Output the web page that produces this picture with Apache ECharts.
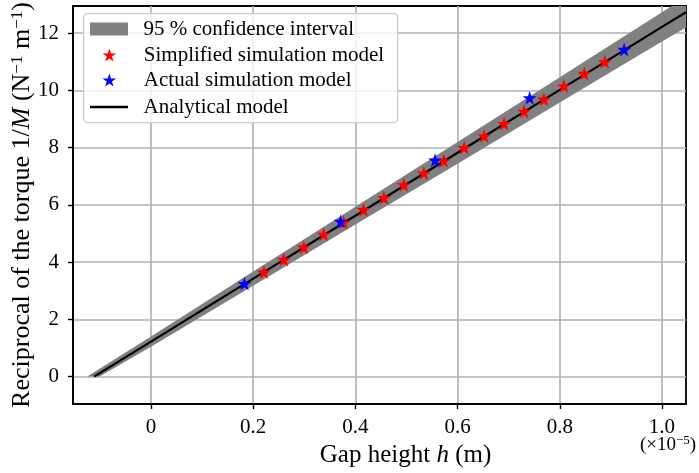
<!DOCTYPE html>
<html>
<head>
<meta charset="utf-8">
<script src="https://cdn.jsdelivr.net/npm/echarts@6/dist/echarts.min.js"></script>
<style>html,body{margin:0;padding:0;background:#fff}#c{width:699px;height:473px}</style>
</head>
<body>
<div id="c"></div>
<script>
// Gap height (×1e-5 m) and reciprocal torque values
const simplifiedH = [0.221, 0.260, 0.299, 0.338, 0.377, 0.416, 0.456, 0.495, 0.534, 0.573, 0.613, 0.652, 0.691, 0.730, 0.769, 0.808, 0.848, 0.888];
const simplifiedInv = [3.65, 4.09, 4.52, 4.97, 5.39, 5.83, 6.25, 6.70, 7.11, 7.54, 8.00, 8.41, 8.84, 9.27, 9.69, 10.15, 10.59, 11.00];
const actualH = [0.183, 0.371, 0.556, 0.741, 0.926];
const actualInv = [3.25, 5.42, 7.56, 9.74, 11.43];
const analyticalH = [-0.111, 0, 0.2, 0.4, 0.6, 0.8, 1.0, 1.047];
const analyticalInv = [0, 1.22, 3.42, 5.62, 7.82, 10.02, 12.22, 12.73];
const bandUpperH = [-0.1247, 0, 0.2, 0.4, 0.6, 0.8, 1.0, 1.047];
const bandUpperInv = [0, 1.40, 3.67, 5.93, 8.20, 10.46, 12.73, 13.26];
const bandLowerH = [-0.1006, 0, 0.2, 0.4, 0.6, 0.8, 1.0, 1.047];
const bandLowerInv = [0, 1.04, 3.17, 5.31, 7.44, 9.58, 11.71, 12.20];
const xTicks = [0, 0.2, 0.4, 0.6, 0.8, 1.0];
const yTicks = [0, 2, 4, 6, 8, 10, 12];
const legendNames = ['95 % confidence interval', 'Simplified simulation model', 'Actual simulation model', 'Analytical model'];

const FONT = 'Liberation Serif';
const STAR = 'path://M100,0L122.45,69.1L195.1,69.1L136.3,111.8L158.8,180.9L100,138.2L41.2,180.9L63.7,111.8L4.9,69.1L77.55,69.1Z';
const zip = (a, b) => a.map((v, i) => [v, b[i]]);

const chart = echarts.init(document.getElementById('c'), null, {renderer: 'canvas'});

const axisCommon = {
  axisLine: {show: true, onZero: false, lineStyle: {color: '#000', width: 1.8}},
  axisTick: {show: true, inside: false, length: 5, lineStyle: {color: '#000', width: 1.4}},
  splitLine: {show: true, lineStyle: {color: '#b0b0b0', width: 1.6}},
  nameMoveOverlap: false
};

function legendRow(name, left, top, icon, color) {
  return {
    show: true, left: left, top: top, orient: 'vertical', padding: 0, z: 20,
    itemWidth: 38, itemHeight: 13, selectedMode: false,
    formatter: n => '  ' + n,
    data: [{name: name, icon: icon, itemStyle: {color: color, borderWidth: 0}}],
    textStyle: {fontFamily: FONT, fontSize: 21, color: '#000', lineHeight: 22}
  };
}

const option = {
  animation: false,
  backgroundColor: '#fff',
  grid: {left: 73, right: 13, top: 6, bottom: 69, containLabel: false, outerBoundsMode: 'none',
    show: true, borderColor: '#000', borderWidth: 1.8, backgroundColor: 'transparent'},
  xAxis: Object.assign({}, axisCommon, {
    type: 'value', min: -0.1526, max: 1.047,
    axisTick: Object.assign({}, axisCommon.axisTick, {customValues: xTicks}),
    axisLabel: {customValues: xTicks, fontFamily: FONT, fontSize: 21, color: '#000', margin: 13,
      formatter: v => v === 0 ? '0' : v.toFixed(1)},
    name: '{n|Gap height }{i|h}{n| (m)}', nameLocation: 'middle', nameGap: 39,
    nameTextStyle: {fontFamily: FONT, fontSize: 25, color: '#000', padding: [0, 0, 0, 52],
      rich: {n: {fontFamily: FONT, fontSize: 25, color: '#000'}, i: {fontFamily: FONT, fontSize: 25, fontStyle: 'italic', color: '#000'}}}
  }),
  yAxis: Object.assign({}, axisCommon, {
    type: 'value', min: -0.96, max: 12.95,
    axisTick: Object.assign({}, axisCommon.axisTick, {customValues: yTicks}),
    axisLabel: {customValues: yTicks, fontFamily: FONT, fontSize: 21, color: '#000', margin: 14,
      formatter: v => String(Math.round(v))},
    name: '{n|Reciprocal of the torque 1/}{i|M}{n| (N}{s|−1}{n| m}{s|−1}{n|)}',
    nameLocation: 'middle', nameRotate: 90, nameGap: 37,
    nameTextStyle: {fontFamily: FONT, fontSize: 26, color: '#000',
      rich: {
        n: {fontFamily: FONT, fontSize: 26, color: '#000'},
        i: {fontFamily: FONT, fontSize: 26, fontStyle: 'italic', color: '#000'},
        s: {fontFamily: FONT, fontSize: 17, color: '#000', verticalAlign: 'top', padding: [0, 0, 10, 0]}
      }}
  }),
  legend: [
    legendRow(legendNames[0], 90, 18, 'rect', '#808080'),
    legendRow(legendNames[1], 102.5, 44, STAR, '#ff0000'),
    legendRow(legendNames[2], 102.5, 69, STAR, '#0000ff'),
    legendRow(legendNames[3], 90, 96, 'path://M0,0H38V2.4H0Z', '#000')
  ],
  graphic: [
    {type: 'rect', left: 83, top: 13, shape: {width: 314, height: 109, r: 4}, z: 10,
      style: {fill: 'rgba(255,255,255,0.8)', stroke: '#cccccc', lineWidth: 1.3}},
    {type: 'text', left: 640, top: 434, z: 100,
      style: {text: '{a|(×10}{s|−5}{a|)}', rich: {
        a: {fontFamily: FONT, fontSize: 19, fill: '#000'},
        s: {fontFamily: FONT, fontSize: 13, fill: '#000', verticalAlign: 'top', padding: [0, 0, 9, 0]}}}}
  ],
  series: [
    {
      type: 'custom', name: legendNames[0], coordinateSystem: 'cartesian2d', z: 1,
      itemStyle: {color: '#808080'},
      data: [[0, 0]],
      renderItem: function (params, api) {
        const pts = [];
        for (let i = 0; i < bandUpperH.length; i++) pts.push(api.coord([bandUpperH[i], bandUpperInv[i]]));
        for (let i = bandLowerH.length - 1; i >= 0; i--) pts.push(api.coord([bandLowerH[i], bandLowerInv[i]]));
        const cs = params.coordSys;
        return {type: 'polygon', shape: {points: pts}, style: {fill: '#808080'},
          clipPath: {type: 'rect', shape: {x: cs.x, y: cs.y, width: cs.width, height: cs.height}}};
      }
    },
    {
      type: 'line', name: legendNames[3], data: zip(analyticalH, analyticalInv), z: 2,
      symbol: 'none', lineStyle: {color: '#000', width: 2.2}, itemStyle: {color: '#000'}, clip: true
    },
    {
      type: 'scatter', name: legendNames[1], data: zip(simplifiedH, simplifiedInv), z: 3,
      symbol: STAR, symbolSize: 14, itemStyle: {color: '#ff0000', opacity: 1}
    },
    {
      type: 'scatter', name: legendNames[2], data: zip(actualH, actualInv), z: 4,
      symbol: STAR, symbolSize: 14, itemStyle: {color: '#0000ff', opacity: 1}
    }
  ]
};
chart.setOption(option);
</script>
</body>
</html>
